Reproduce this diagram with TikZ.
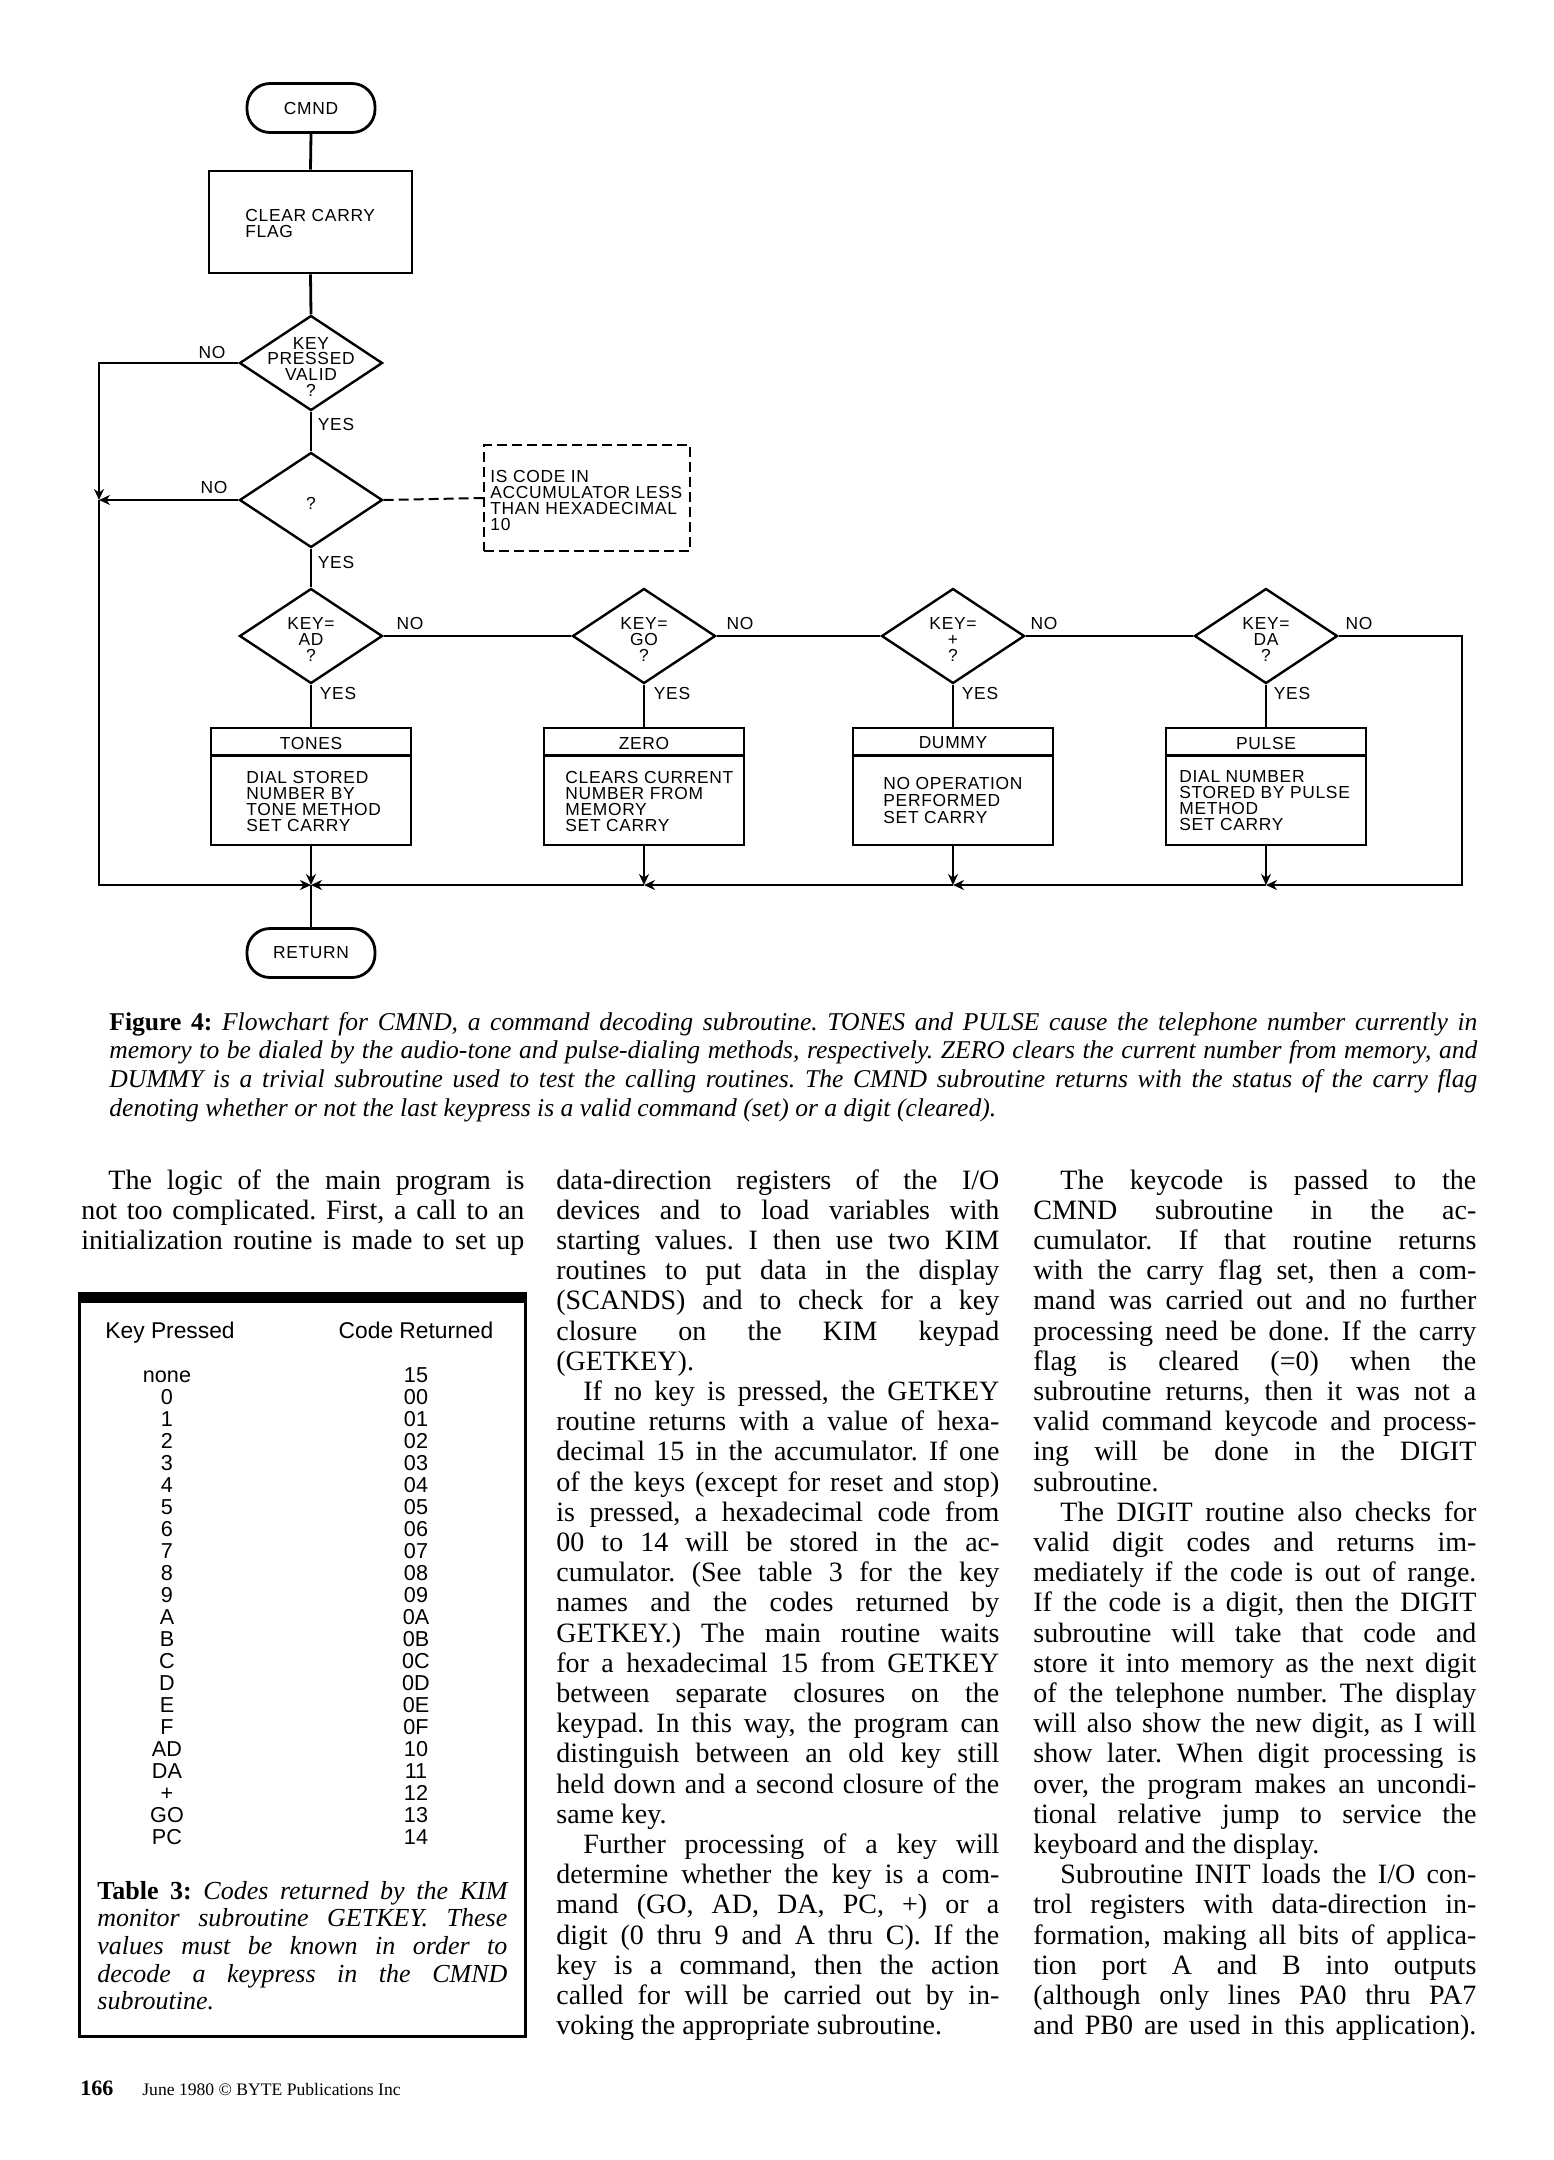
\documentclass[tikz,border=0pt]{standalone}
\usepackage{fontspec}
\setmainfont{Liberation Serif}
\newfontfamily\fcfont[LetterSpace=4]{Liberation Sans}
\newfontfamily\tabfont{Liberation Sans}
\usetikzlibrary{shapes.geometric,arrows.meta,calc}
\newcommand\Ln[1]{\hbox to\hsize{#1}}
\newcommand\Lf[1]{\hbox to\hsize{#1\hfil}}
\newcommand\Li[1]{\hbox to\hsize{\hskip13.5pt #1}}
\newcommand\fcs{\fcfont\fontsize{8.7}{8}\selectfont}
\tikzset{
  flow/.style={line width=1.4pt},
  arr/.style={flow,-{Stealth[length=5.5pt,width=5pt]}},
  lbl/.style={inner sep=0pt,font=\fcs},
  term/.style={draw,line width=1.4pt,rounded corners=11.5pt,minimum width=64pt,minimum height=24.5pt,inner sep=0pt,font=\fcs},
  proc/.style={draw,line width=1.4pt,minimum width=100pt,minimum height=58.5pt,inner sep=0pt},
  dia/.style={draw,diamond,line width=1.2pt,minimum width=71.5pt,minimum height=47.5pt,inner sep=0pt},
  note/.style={draw,line width=1pt,dash pattern=on 5pt off 2.5pt,minimum width=103pt,minimum height=53pt,inner sep=0pt},
  tabtxt/.style={inner sep=0pt,font=\tabfont\fontsize{11.4}{12}\selectfont},
  tabent/.style={inner sep=0pt,font=\tabfont\fontsize{10.8}{11}\selectfont},
  body/.style={anchor=base west,inner sep=0pt}
}
\begin{document}
\begin{tikzpicture}[x=0.5pt,y=-0.5pt]
\fill[white] (0,0) rectangle (1554,2160);
\useasboundingbox (0,0) rectangle (1554,2160);

% ---------- flowchart ----------
\node[term] (cmnd) at (311,108) {CMND};
\node[proc,minimum width=101.5pt,minimum height=51pt] (clear) at (310.5,222) {};
\node[lbl,anchor=west,align=left] (cleart) at (245,223) {CLEAR CARRY\\FLAG};
\node[dia] (d1) at (311,363) {};
\node[lbl,align=center] (d1t) at (311,367) {KEY\\PRESSED\\VALID\\?};
\node[dia] (d2) at (311,500) {};
\node[lbl] (d2t) at (311,503) {?};
\node[note] (note) at (587,498) {};
\node[lbl,anchor=west,align=left] (notet) at (490,500) {IS CODE IN\\ACCUMULATOR LESS\\THAN HEXADECIMAL\\10};

\foreach \nm/\xx/\kk in {dad/311/AD, dgo/644/GO, dplus/953/+, dda/1266/DA}{
  \node[dia] (\nm) at (\xx,636) {};
  \node[lbl,align=center] (\nm-t) at (\xx,639) {KEY=\\\kk\\?};
}
\foreach \nm/\xx/\ttl in {tones/311/TONES, zero/644/ZERO, dummy/953/DUMMY, pulse/1266/PULSE}{
  \node[proc] (\nm) at (\xx,786.5) {};
  \draw[flow] ($(\nm.north west)+(0,29)$) -- ($(\nm.north east)+(0,29)$);
  \node[lbl] (\nm-h) at (\xx,743) {\ttl};
}
\node[lbl,anchor=west,align=left] (tones-b) at (246,801) {DIAL STORED\\NUMBER BY\\TONE METHOD\\SET CARRY};
\node[lbl,anchor=west,align=left] (zero-b) at (565,801) {CLEARS CURRENT\\NUMBER FROM\\MEMORY\\SET CARRY};
\node[lbl,anchor=west,align=left,font=\fcfont\fontsize{8.7}{8.5}\selectfont] (dummy-b) at (883,800) {NO OPERATION\\PERFORMED\\SET CARRY};
\node[lbl,anchor=west,align=left] (pulse-b) at (1179,801) {DIAL NUMBER\\STORED BY PULSE\\METHOD\\SET CARRY};

\node[term] (ret) at (311,953) {RETURN};

% labels
\node[lbl] (no1) at (212,352) {NO};
\node[lbl] (yes1) at (336,424) {YES};
\node[lbl] (no2) at (214,487) {NO};
\node[lbl] (yes2) at (336,562) {YES};
\node[lbl] (no3) at (410,623) {NO};
\node[lbl] (yes3) at (338,693) {YES};
\node[lbl] (no4) at (740,623) {NO};
\node[lbl] (yes4) at (672,693) {YES};
\node[lbl] (no5) at (1044,623) {NO};
\node[lbl] (yes5) at (980,693) {YES};
\node[lbl] (no6) at (1359,623) {NO};
\node[lbl] (yes6) at (1292,693) {YES};

% coordinates
\coordinate (lt) at (99,363);
\coordinate (lm) at (99,500);
\coordinate (lb) at (99,885);
\coordinate (j1) at (311,885);
\coordinate (j2) at (644,885);
\coordinate (j3) at (953,885);
\coordinate (j4) at (1266,885);
\coordinate (rt) at (1462,636);
\coordinate (rb) at (1462,885);

% connectors
\draw[flow] (cmnd.south) -- (clear.north);
\draw[flow] (clear.south) -- (d1.north);
\draw[flow] (d1.south) -- (d2.north);
\draw[flow] (d2.south) -- (dad.north);
\draw[flow] (dad.south) -- (tones.north);
\draw[flow] (dgo.south) -- (zero.north);
\draw[flow] (dplus.south) -- (dummy.north);
\draw[flow] (dda.south) -- (pulse.north);
\draw[flow] (dad.east) -- (dgo.west);
\draw[flow] (dgo.east) -- (dplus.west);
\draw[flow] (dplus.east) -- (dda.west);
\draw[flow,dash pattern=on 5pt off 2.5pt,line width=1pt] (d2.east) -- (note.west);
\draw[arr] (d1.west) -- (lt) -- (lm);
\draw[arr] (d2.west) -- (lm);
\draw[arr] (lm) -- (lb) -- (j1);
\draw[arr] (dda.east) -- (rt) -- (rb) -- (j4);
\draw[arr] (j4) -- (j3);
\draw[arr] (j3) -- (j2);
\draw[arr] (j2) -- (j1);
\draw[arr] (tones.south) -- (j1);
\draw[arr] (zero.south) -- (j2);
\draw[arr] (dummy.south) -- (j3);
\draw[arr] (pulse.south) -- (j4);
\draw[flow] (j1) -- (ret.north);

% ---------- caption ----------
\node[body] (cap) at (109,1030) {\vtop{\hsize=684pt \frenchspacing\fontsize{12.8}{14.35}\selectfont\itshape
\Ln{\textbf{\upshape Figure 4:} Flowchart for CMND, a command decoding subroutine. TONES and PULSE cause the telephone number currently in}
\Ln{memory to be dialed by the audio-tone and pulse-dialing methods, respectively. ZERO clears the current number from memory, and}
\Ln{DUMMY is a trivial subroutine used to test the calling routines. The CMND subroutine returns with the status of the carry flag}
\Lf{denoting whether or not the last keypress is a valid command (set) or a digit (cleared).}}};

% ---------- body columns ----------
\node[body] (col1) at (81,1189) {\vtop{\hsize=221.5pt \frenchspacing\fontsize{14}{15.1}\selectfont
\Li{The logic of the main program is}
\Ln{not too complicated. First, a call to an}
\Ln{initialization routine is made to set up}}};

\node[body] (col2) at (556,1189) {\vtop{\hsize=221.5pt \frenchspacing\fontsize{14}{15.1}\selectfont
\Ln{data-direction registers of the I/O}
\Ln{devices and to load variables with}
\Ln{starting values. I then use two KIM}
\Ln{routines to put data in the display}
\Ln{(SCANDS) and to check for a key}
\Ln{closure on the KIM keypad}
\Lf{(GETKEY).}
\Li{If no key is pressed, the GETKEY}
\Ln{routine returns with a value of hexa-}
\Ln{decimal 15 in the accumulator. If one}
\Ln{of the keys (except for reset and stop)}
\Ln{is pressed, a hexadecimal code from}
\Ln{00 to 14 will be stored in the ac-}
\Ln{cumulator. (See table 3 for the key}
\Ln{names and the codes returned by}
\Ln{GETKEY.) The main routine waits}
\Ln{for a hexadecimal 15 from GETKEY}
\Ln{between separate closures on the}
\Ln{keypad. In this way, the program can}
\Ln{distinguish between an old key still}
\Ln{held down and a second closure of the}
\Lf{same key.}
\Li{Further processing of a key will}
\Ln{determine whether the key is a com-}
\Ln{mand (GO, AD, DA, PC, +) or a}
\Ln{digit (0 thru 9 and A thru C). If the}
\Ln{key is a command, then the action}
\Ln{called for will be carried out by in-}
\Lf{voking the appropriate subroutine.}}};

\node[body] (col3) at (1033,1189) {\vtop{\hsize=221.5pt \frenchspacing\fontsize{14}{15.1}\selectfont
\Li{The keycode is passed to the}
\Ln{CMND subroutine in the ac-}
\Ln{cumulator. If that routine returns}
\Ln{with the carry flag set, then a com-}
\Ln{mand was carried out and no further}
\Ln{processing need be done. If the carry}
\Ln{flag is cleared (=0) when the}
\Ln{subroutine returns, then it was not a}
\Ln{valid command keycode and process-}
\Ln{ing will be done in the DIGIT}
\Lf{subroutine.}
\Li{The DIGIT routine also checks for}
\Ln{valid digit codes and returns im-}
\Ln{mediately if the code is out of range.}
\Ln{If the code is a digit, then the DIGIT}
\Ln{subroutine will take that code and}
\Ln{store it into memory as the next digit}
\Ln{of the telephone number. The display}
\Ln{will also show the new digit, as I will}
\Ln{show later. When digit processing is}
\Ln{over, the program makes an uncondi-}
\Ln{tional relative jump to service the}
\Lf{keyboard and the display.}
\Li{Subroutine INIT loads the I/O con-}
\Ln{trol registers with data-direction in-}
\Ln{formation, making all bits of applica-}
\Ln{tion port A and B into outputs}
\Ln{(although only lines PA0 thru PA7}
\Ln{and PB0 are used in this application).}}};

% ---------- table ----------
\fill (78,1292) rectangle (527,1303);
\draw[line width=1.5pt] (79.5,1300) -- (79.5,2036) -- (525.5,2036) -- (525.5,1300);
\node[tabtxt,anchor=base west] (kp) at (105,1338) {Key Pressed};
\node[tabtxt,anchor=base] (cr) at (416,1338) {Code Returned};
\foreach \k/\c [count=\i from 0] in {none/15,0/00,1/01,2/02,3/03,4/04,5/05,6/06,7/07,8/08,9/09,A/0A,B/0B,C/0C,D/0D,E/0E,F/0F,AD/10,DA/11,+/12,GO/13,PC/14}{
  \node[tabent,anchor=base] (k\i) at (167,{1382+22*\i}) {\k};
  \node[tabent,anchor=base] (c\i) at (416,{1382+22*\i}) {\c};
}
\node[body] (tcap) at (97,1899) {\vtop{\hsize=205pt \frenchspacing\fontsize{13}{13.85}\selectfont\itshape
\Ln{\textbf{\upshape Table 3:} Codes returned by the KIM}
\Ln{monitor subroutine GETKEY. These}
\Ln{values must be known in order to}
\Ln{decode a keypress in the CMND}
\Lf{subroutine.}}};

% ---------- footer ----------
\node[body,font=\fontsize{11}{12}\selectfont\bfseries] (pgno) at (80,2095) {166};
\node[body,font=\fontsize{8.8}{10}\selectfont] (foot) at (142,2095) {June 1980 © BYTE Publications Inc};
\end{tikzpicture}
\end{document}
